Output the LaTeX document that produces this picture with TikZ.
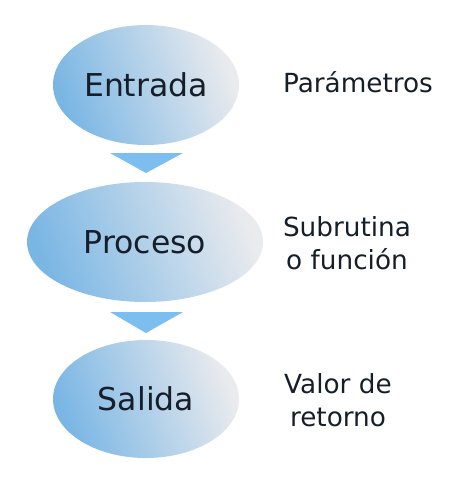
\documentclass[tikz,border=0pt]{standalone}
\usepackage{fontspec}
\setmainfont{DejaVu Sans}
\usetikzlibrary{shapes.geometric}
\definecolor{ellblue}{RGB}{122,182,228}
\definecolor{elllight}{RGB}{234,235,238}
\definecolor{triblue}{RGB}{125,190,240}
\definecolor{txt}{RGB}{22,30,42}
\begin{document}
\begin{tikzpicture}[x=1pt,y=-1pt,
  stage/.style={ellipse, inner sep=0pt, top color=elllight, bottom color=ellblue, shading angle=-70, draw=none, text=txt, font=\fontsize{31.5}{36}\selectfont},
  tri/.style={fill=triblue, draw=none},
  note/.style={align=center, text=txt, font=\fontsize{26.3}{33}\selectfont}]
\useasboundingbox (0,0) rectangle (461,480);
\node[stage, minimum width=186pt, minimum height=120pt] (ent) at (146,85) {Entrada};
\node[stage, minimum width=236pt, minimum height=120pt] (pro) at (145,242) {Proceso};
\node[stage, minimum width=186pt, minimum height=118pt] (sal) at (146,399) {Salida};
\coordinate (t1l) at (110,153);
\coordinate (t1r) at (183,153);
\coordinate (t1a) at (146,173);
\fill[tri] (t1l) -- (t1r) -- (t1a) -- cycle;
\coordinate (t2l) at (110,312);
\coordinate (t2r) at (183,312);
\coordinate (t2a) at (146,333);
\fill[tri] (t2l) -- (t2r) -- (t2a) -- cycle;
\node[note] (par) at (358,82) {Parámetros};
\node[note] (sub) at (347,243) {Subrutina\\o función};
\node[note] (val) at (338,400) {Valor de\\retorno};
\end{tikzpicture}
\end{document}
